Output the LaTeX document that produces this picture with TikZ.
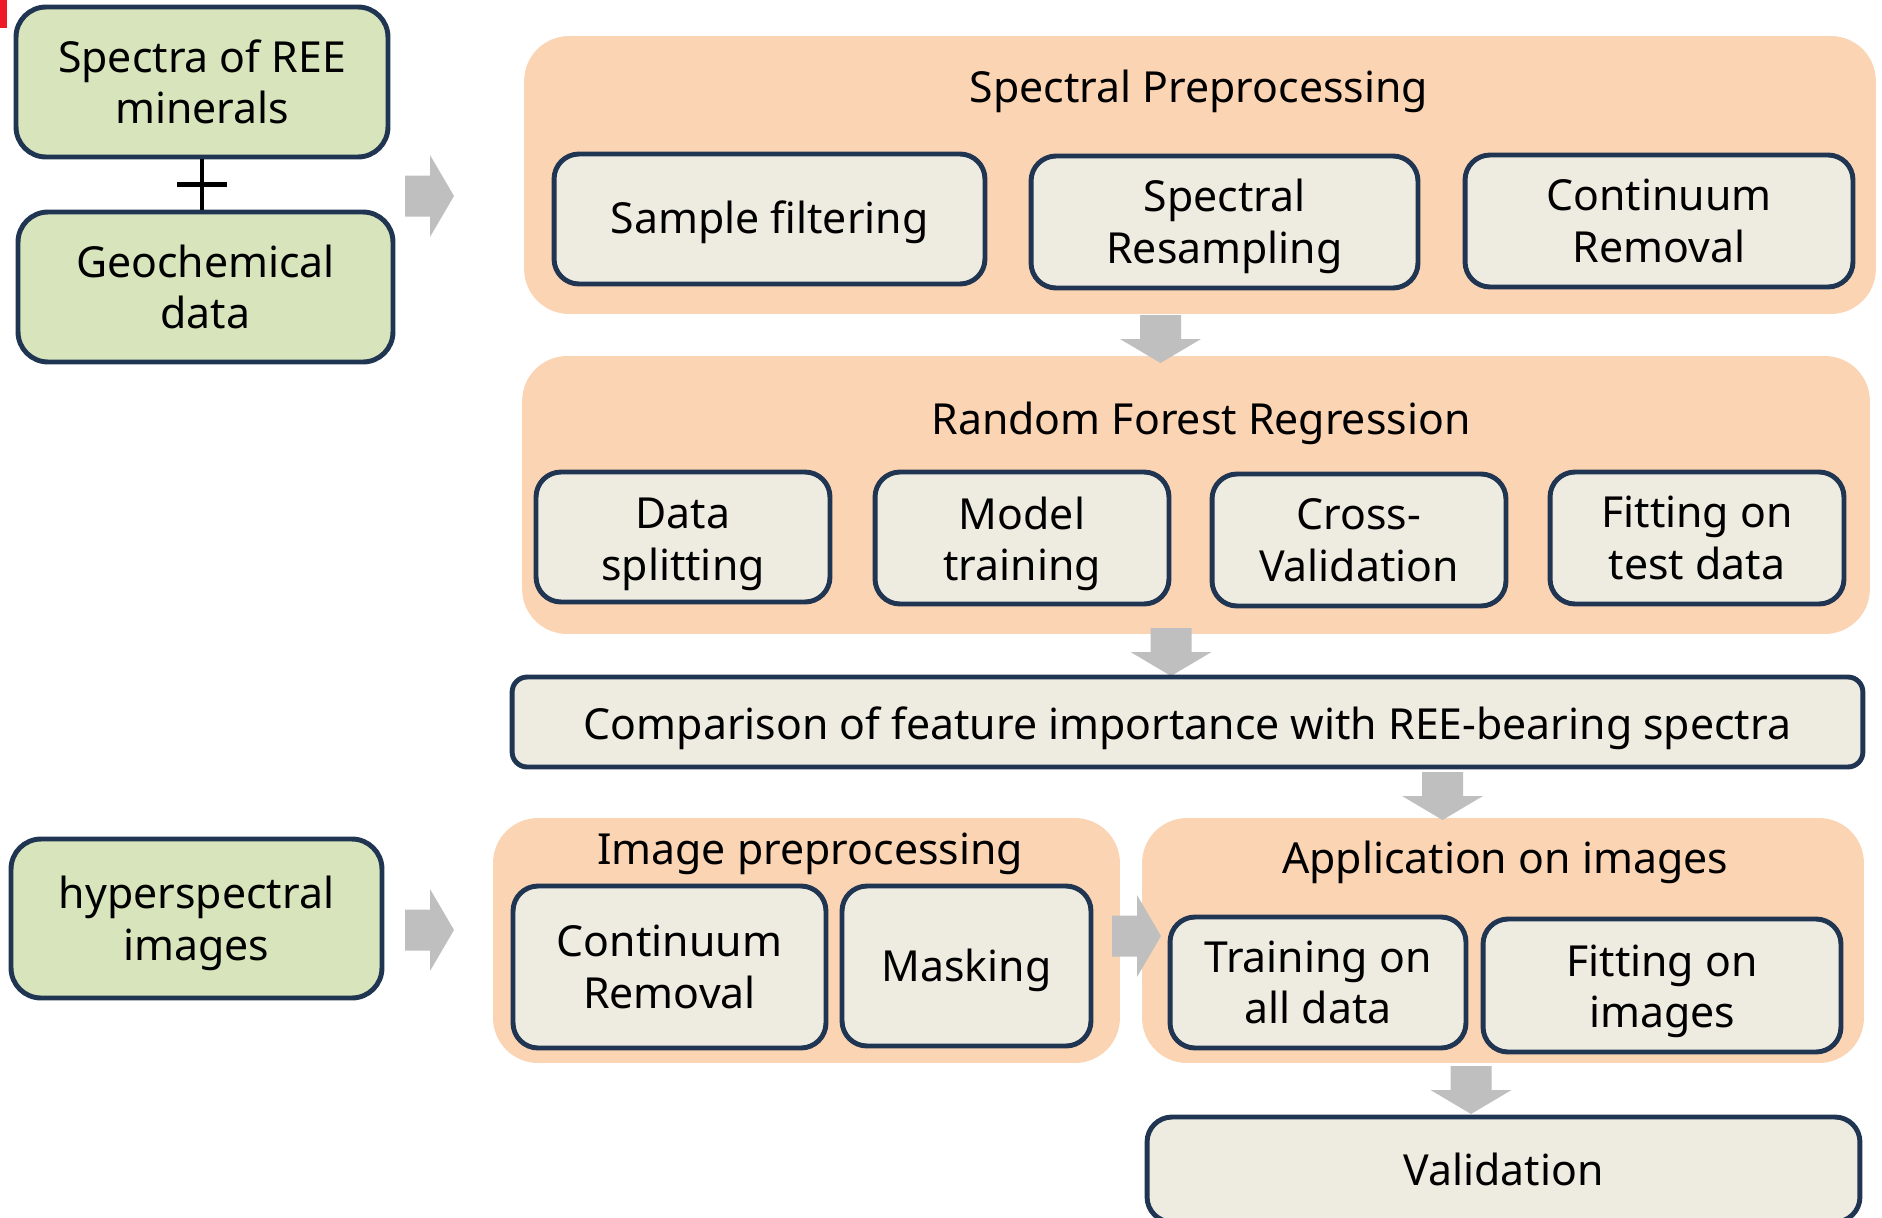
\documentclass[tikz,border=0pt]{standalone}
\usepackage{fontspec}
\setmainfont{Noto Sans}
\usetikzlibrary{calc}
\definecolor{rfnavy}{HTML}{1F3552}
\definecolor{rfgreen}{HTML}{D8E4BC}
\definecolor{rfcream}{HTML}{EEECE1}
\definecolor{rforange}{HTML}{FBD4B4}
\definecolor{rfgray}{HTML}{BFBFBF}
\definecolor{rfred}{HTML}{ED1C24}

\begin{document}
\begin{tikzpicture}[
  x=0.02cm, y=-0.02cm,
  every node/.style={font=\fontsize{24.35}{29.4}\selectfont, inner sep=0pt, align=center},
  input/.style={rectangle, draw=rfnavy, fill=rfgreen, line width=2.8pt, rounded corners=0.6cm},
  task/.style={rectangle, draw=rfnavy, fill=rfcream, line width=2.8pt, rounded corners=0.5cm},
  stage/.style={rectangle, fill=rforange, rounded corners=0.9cm},
  drop/.style={execute at begin node={\rule{0pt}{#1}}},
  rarrow/.pic={\fill[rfgray] (0,-20.5) -- (25,-20.5) -- (25,-41) -- (49,0) -- (25,41) -- (25,20.5) -- (0,20.5) -- cycle;},
  darrow/.pic={\fill[rfgray] (-20.5,0) -- (-20.5,24) -- (-40.5,24) -- (0,48) -- (40.5,24) -- (20.5,24) -- (20.5,0) -- cycle;},
]
\useasboundingbox (0,0) rectangle (1882,1217);

% corner mark
\fill[rfred] (0,0) rectangle (7,28);

% Inputs
\node[input, minimum width=7.44cm, minimum height=3.0cm] (spec) at (202,82) {Spectra of REE\\minerals};
\node[input, minimum width=7.5cm, minimum height=3.0cm] (geo) at (205.5,287) {Geochemical\\data};
\node[input, minimum width=7.42cm, minimum height=3.18cm] (hyper) at (196.5,918.5) {\rule{0pt}{23.9pt}hyperspectral\\images};

% plus sign between the two inputs
\draw[line width=2.8pt] (spec.south) -- (spec.south |- geo.north);
\coordinate (plus) at ($(spec.south)!0.5!(spec.south |- geo.north)$);
\draw[line width=2.8pt] ([xshift=-0.5cm]plus) -- ([xshift=0.5cm]plus);

% Stages
\node[stage, minimum width=27.04cm, minimum height=5.56cm] (sp) at (1200,175) {};
\node[stage, minimum width=26.96cm, minimum height=5.56cm] (rf) at (1196,495) {};
\node[stage, minimum width=12.54cm, minimum height=4.9cm] (ip) at (806.5,940.5) {};
\node[stage, minimum width=14.44cm, minimum height=4.9cm] (app) at (1503,940.5) {};

\node[drop=22.6pt] (sptitle) at (1199,88) {Spectral Preprocessing};
\node[drop=23.9pt] (rftitle) at (1201,419) {Random Forest Regression};
\node[drop=25.3pt] (iptitle) at (810,847) {Image preprocessing};
\node[drop=23.9pt] (apptitle) at (1505,858) {Application on images};

% Flow arrows
\pic at (405,196) {rarrow};
\pic at (405,930) {rarrow};
\pic at (1112,936) {rarrow};
\pic at (1160.5,315) {darrow};
\pic at (1171,628) {darrow};
\pic at (1442.5,772) {darrow};
\pic at (1471,1066) {darrow};

% Spectral preprocessing steps
\node[task, drop=22.6pt, minimum width=8.62cm, minimum height=2.6cm] (sf) at (769.5,219) {Sample filtering};
\node[task, minimum width=7.74cm, minimum height=2.64cm] (sr) at (1224.5,222) {\rule{0pt}{23.3pt}Spectral\\Resampling};
\node[task, minimum width=7.76cm, minimum height=2.64cm] (cr) at (1659,221) {Continuum\\Removal};

% Random forest steps
\node[task, minimum width=5.88cm, minimum height=2.6cm] (ds) at (683,537) {\rule{0pt}{26pt}Data\\splitting};
\node[task, minimum width=5.88cm, minimum height=2.64cm] (mt) at (1022,538) {\rule{0pt}{25.3pt}Model\\training};
\node[task, minimum width=5.88cm, minimum height=2.64cm] (cv) at (1359,540) {Cross-\\Validation};
\node[task, minimum width=5.88cm, minimum height=2.64cm] (ft) at (1697,538) {Fitting on\\test data};

\node[task, drop=25.3pt, rounded corners=0.3cm, minimum width=27.02cm, minimum height=1.8cm] (cmp) at (1187.5,722) {Comparison of feature importance with REE-bearing spectra};

% Image steps
\node[task, minimum width=6.26cm, minimum height=3.24cm] (icr) at (669.5,967) {Continuum\\Removal};
\node[task, drop=23.9pt, minimum width=4.98cm, minimum height=3.2cm] (msk) at (966.5,966) {Masking};
\node[task, minimum width=5.92cm, minimum height=2.62cm] (tad) at (1318,982.5) {Training on\\all data};
\node[task, minimum width=7.16cm, minimum height=2.66cm] (fim) at (1662,985.5) {\rule{0pt}{24.6pt}Fitting on\\images};

\node[task, minimum width=14.26cm, minimum height=2.1cm] (val) at (1503.5,1169.5) {Validation};

\end{tikzpicture}
\end{document}
